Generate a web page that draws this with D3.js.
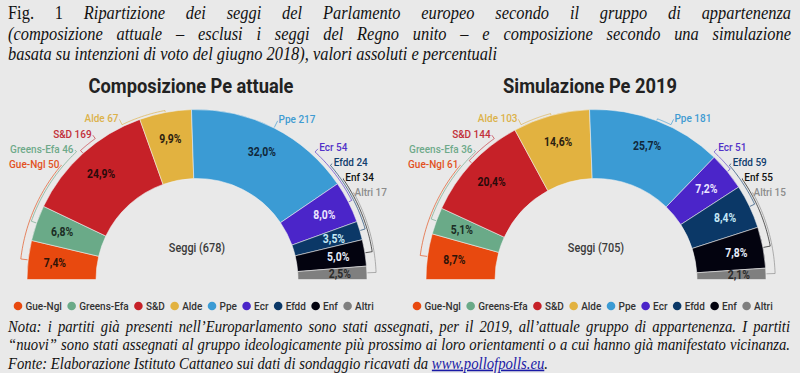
<!DOCTYPE html>
<html>
<head>
<meta charset="utf-8">
<script src="https://cdn.jsdelivr.net/npm/d3@7"></script>
<style>
  html, body { margin: 0; padding: 0; background: #e9e9e9; }
  svg { display: block; }
</style>
</head>
<body>
<svg id="chart" width="800" height="373"></svg>
<script>
/* DATA */

const groups = ['Gue-Ngl', 'Greens-Efa', 'S&D', 'Alde', 'Ppe', 'Ecr', 'Efdd', 'Enf', 'Altri']
const seatsAttuale = [50, 46, 169, 67, 217, 54, 24, 34, 17]
const seats2019 = [61, 36, 144, 103, 181, 51, 59, 55, 15]
const chartTitles = ['Composizione Pe attuale', 'Simulazione Pe 2019']
const centreLabel = 'Seggi'

const figLabel = 'Fig. 1'
const titleLines = [
  'Ripartizione dei seggi del Parlamento europeo secondo il gruppo di appartenenza',
  '(composizione attuale – esclusi i seggi del Regno unito – e composizione secondo una simulazione',
  'basata su intenzioni di voto del giugno 2018), valori assoluti e percentuali'
]
const noteLines = [
  'Nota: i partiti già presenti nell’Europarlamento sono stati assegnati, per il 2019, all’attuale gruppo di appartenenza. I partiti',
  '“nuovi” sono stati assegnati al gruppo ideologicamente più prossimo ai loro orientamenti o a cui hanno già manifestato vicinanza.'
]
const sourceText = 'Fonte: Elaborazione Istituto Cattaneo sui dati di sondaggio ricavati da'
const sourceLink = 'www.pollofpolls.eu'

/* COLOURS */

const bg = '#e9e9e9'
const groupColours = ['#e8490f', '#6aaa88', '#c62128', '#e2b240', '#3b9bd4', '#4b25c9', '#0b3867', '#03030f', '#7f7f7f']
const labelColours = ['#e2521e', '#6fa98a', '#c2303a', '#dcb24a', '#3f9bd2', '#5232c8', '#12406e', '#111111', '#8c8c8c']
const pctColours = ['#2e1308', '#1b2d24', '#2a0a0a', '#2b2010', '#10273a', '#ece6ff', '#c4e8f6', '#e6eefc', '#2b2b2b']

const sans = 'Roboto, "Noto Sans", sans-serif'
const serif = '"Liberation Serif", "DejaVu Serif", serif'
const squeeze = 0.87 // the source picture is a little condensed horizontally

/* FUNCTIONS */

const svg = d3.select('#chart')

svg.append('rect')
  .attr('width', 800)
  .attr('height', 373)
  .attr('fill', bg)

const outerR = 170
const innerR = 101
const labelR = 180

const pie = d3.pie().sort(null).value(d => d)
  .startAngle(-Math.PI / 2).endAngle(Math.PI / 2)
const arc = d3.arc().innerRadius(innerR).outerRadius(outerR)
const radial = d3.lineRadial()

const fmtPct = v => d3.format('.1f')(v).replace('.', ',') + '%'
const at = (x, y) => `translate(${x},${y}) scale(${squeeze},1)`

// keep outer labels inside the panel, below the title, and not overlapping
function placeLabels (arcs, widths) {
  const xMax = 190
  const xMin = -188
  const yMin = -162
  const gap = 15
  const labels = arcs.map((d, i) => {
    const mid = (d.startAngle + d.endAngle) / 2
    const right = mid >= 0
    let a = Math.abs(mid)
    const room = right ? xMax - widths[i] : -(xMin + widths[i])
    a = Math.min(a, Math.asin(Math.min(1, room / labelR)))
    a = Math.max(a, Math.acos(-yMin / labelR))
    return { i, mid, right, y: -labelR * Math.cos(a) }
  })
  ;[true, false].forEach(side => {
    // bottom segment first, then upwards
    const s = labels.filter(l => l.right === side)
      .sort((p, q) => Math.abs(q.mid) - Math.abs(p.mid))
    for (let k = 1; k < s.length; k++) s[k].y = Math.min(s[k].y, s[k - 1].y - gap)
    s.forEach((l, k) => { l.ring = outerR + 2 + (s.length - 1 - k) * 1.8 })
  })
  labels.forEach(l => {
    const x = Math.sqrt(labelR * labelR - l.y * l.y)
    l.x = l.right ? x : -x
    l.a = (l.right ? 1 : -1) * Math.acos(-l.y / labelR)
  })
  return labels
}

function drawParliament (x0, seats, title) {
  const cx = x0 + 197
  const cy = 279.5
  const total = d3.sum(seats)
  const arcs = pie(seats)

  const g = svg.append('g')

  // Title
  g.append('text')
    .attr('transform', at(x0 + 191, 93))
    .attr('text-anchor', 'middle')
    .attr('font-family', sans)
    .attr('font-weight', 700)
    .attr('font-size', 21)
    .attr('fill', '#222')
    .text(title)

  const c = g.append('g').attr('transform', `translate(${cx},${cy})`)

  // Segments
  c.selectAll('path.seg')
    .data(arcs)
    .enter().append('path')
    .attr('class', 'seg')
    .attr('d', arc)
    .attr('fill', (d, i) => groupColours[i])
    .attr('stroke', 'rgba(240,240,240,0.7)')
    .attr('stroke-width', 0.8)

  // Percentages
  c.selectAll('text.pct')
    .data(arcs)
    .enter().append('text')
    .attr('class', 'pct')
    .attr('transform', d => {
      const m = (d.startAngle + d.endAngle) / 2
      return at(Math.sin(m) * 143, -Math.cos(m) * 143)
    })
    .attr('dy', '0.35em')
    .attr('text-anchor', 'middle')
    .attr('font-family', sans)
    .attr('font-weight', 700)
    .attr('font-size', 12)
    .attr('fill', (d, i) => pctColours[i])
    .text(d => fmtPct(d.value / total * 100))

  // Outer labels
  const outer = c.selectAll('text.outer')
    .data(arcs)
    .enter().append('text')
    .attr('class', 'outer')
    .attr('dy', '0.35em')
    .attr('font-family', sans)
    .attr('font-weight', 500)
    .attr('font-size', 11.5)
    .attr('fill', (d, i) => labelColours[i])
    .text((d, i) => groups[i] + ' ' + d.value)

  const widths = outer.nodes().map(n => n.getComputedTextLength() * squeeze)
  const placed = placeLabels(arcs, widths)

  outer
    .attr('transform', (d, i) => at(placed[i].x, placed[i].y))
    .attr('text-anchor', (d, i) => placed[i].right ? 'start' : 'end')

  // Leader brackets
  placed.forEach(l => {
    const steps = d3.range(0, 1.0001, 1 / 30)
    const pts = [[l.a, labelR - 2]]
      .concat(steps.map(t => [l.a + (l.mid - l.a) * t, l.ring]))
      .concat([[l.mid, outerR + 0.5]])
    c.append('path')
      .attr('d', radial(pts))
      .attr('fill', 'none')
      .attr('stroke', labelColours[l.i])
      .attr('stroke-opacity', 0.75)
      .attr('stroke-width', 0.9)
  })

  // Centre label
  c.append('text')
    .attr('transform', at(0, -32))
    .attr('dy', '0.35em')
    .attr('text-anchor', 'middle')
    .attr('font-family', sans)
    .attr('font-weight', 500)
    .attr('font-size', 12.5)
    .attr('fill', '#3a3a3a')
    .text(`${centreLabel} (${total})`)

  // Legend
  const items = g.append('g').selectAll('g')
    .data(groups)
    .enter().append('g')
  items.append('circle')
    .attr('r', 4.3)
    .attr('fill', (d, i) => groupColours[i])
  items.append('text')
    .attr('transform', at(7.5, 0))
    .attr('dy', '0.35em')
    .attr('font-family', sans)
    .attr('font-weight', 500)
    .attr('font-size', 11.5)
    .attr('fill', '#333')
    .text(d => d)
  const tw = items.selectAll('text').nodes().map(n => n.getComputedTextLength() * squeeze)
  const span = 360
  const gapL = (span - 4.3 - d3.sum(tw) - groups.length * 7.5) / (groups.length - 1)
  let xx = x0 + 18
  items.attr('transform', (d, i) => {
    const t = `translate(${xx},306)`
    xx += 7.5 + tw[i] + gapL
    return t
  })
}

// justified serif text block, one text element per word
// parts = [{text, italic, link, glue}]
function drawTextBlock (lines, opts) {
  const g = svg.append('g')
  const probe = g.append('text')
    .attr('font-family', serif)
    .attr('font-size', opts.size)
    .attr('font-style', 'italic')
  const spaceW = probe.text('a a').node().getComputedTextLength() -
    probe.text('aa').node().getComputedTextLength()
  probe.remove()

  const rows = lines.map((parts, k) => {
    const row = g.append('g')
    const words = []
    parts.forEach(p => {
      p.text.split(' ').filter(w => w).forEach((w, j) => {
        const t = row.append('text')
          .attr('font-family', serif)
          .attr('font-size', opts.size)
          .attr('font-style', p.italic ? 'italic' : 'normal')
          .attr('fill', p.link ? '#1a1aa6' : '#111')
          .text(w)
        if (p.link) t.attr('text-decoration', 'underline')
        words.push({ t, w: t.node().getComputedTextLength(), glue: j === 0 && p.glue })
      })
    })
    return { row, words, y: opts.y0 + k * opts.lh }
  })

  const lastRow = rows[rows.length - 1]
  const natural = d3.sum(lastRow.words, d => d.w) +
    spaceW * lastRow.words.filter((d, i) => i > 0 && !d.glue).length
  const sx = opts.lastWidth / natural

  rows.forEach((r, k) => {
    const justify = k < rows.length - 1
    const nGaps = r.words.filter((d, i) => i > 0 && !d.glue).length
    const gap = justify ? (opts.width / sx - d3.sum(r.words, d => d.w)) / nGaps : spaceW
    let x = 0
    r.words.forEach((d, i) => {
      if (i > 0 && !d.glue) x += gap
      d.t.attr('x', x)
      x += d.w
    })
    r.row.attr('transform', `translate(${opts.x0},${r.y}) scale(${sx},1)`)
  })
}

/* CALL FUNCTIONS */

drawTextBlock([
  [{ text: figLabel, italic: false }, { text: titleLines[0], italic: true }],
  [{ text: titleLines[1], italic: true }],
  [{ text: titleLines[2], italic: true }]
], { x0: 8, y0: 19, lh: 20.5, size: 18, width: 783, lastWidth: 489 })

drawParliament(0, seatsAttuale, chartTitles[0])
drawParliament(399, seats2019, chartTitles[1])

drawTextBlock([
  [{ text: noteLines[0], italic: true }],
  [{ text: noteLines[1], italic: true }],
  [{ text: sourceText, italic: true }, { text: sourceLink, italic: true, link: true }, { text: '.', italic: true, glue: true }]
], { x0: 8, y0: 332, lh: 18.3, size: 16, width: 782, lastWidth: 540 })
</script>
</body>
</html>
